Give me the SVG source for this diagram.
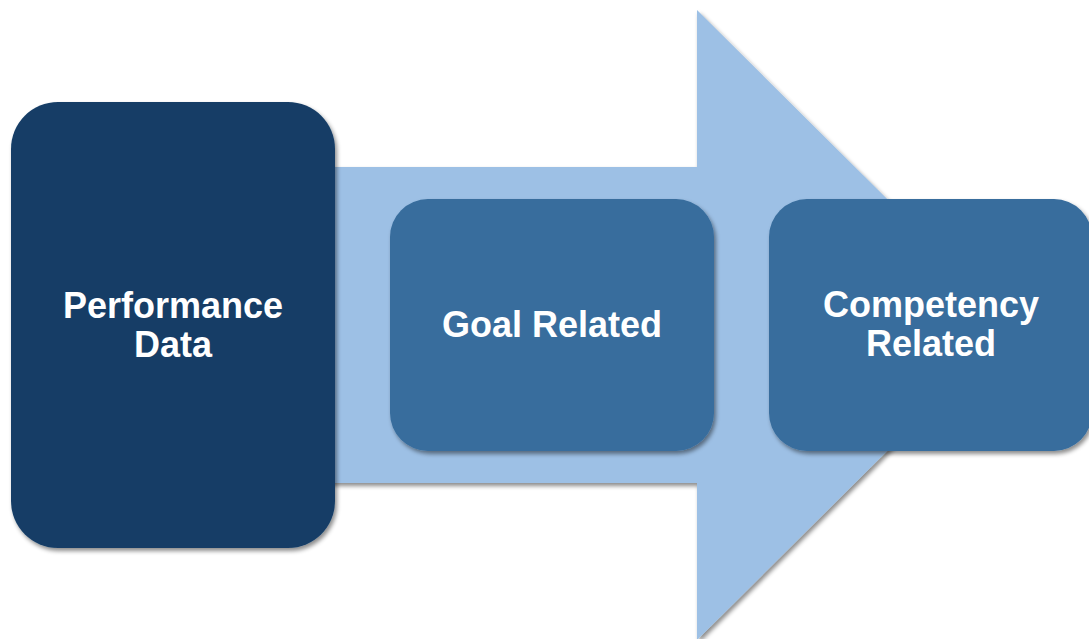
<svg xmlns="http://www.w3.org/2000/svg" width="1089" height="639" viewBox="0 0 1089 639">
  <defs>
    <filter id="sh" x="-10%" y="-10%" width="130%" height="130%">
      <feDropShadow dx="2" dy="3" stdDeviation="2" flood-color="#000" flood-opacity="0.45"/>
    </filter>
    <style>
      .lbl { font-family: "Liberation Sans", Arial, sans-serif; font-weight: bold; font-size: 36px; fill: #ffffff; text-anchor: middle; }
      .arrow { fill: #9DC0E5; }
      .dark { fill: #143D66; }
      .mid { fill: #386D9D; }
    </style>
  </defs>
  <rect width="1089" height="639" fill="#ffffff"/>
  <g id="connectors">
    <polygon class="arrow" filter="url(#sh)" points="300,167 697,167 697,10 1014,325 697,640 697,483 300,483"/>
  </g>
  <g id="node-performance">
    <rect class="dark" filter="url(#sh)" x="11" y="102" width="324" height="446" rx="47" ry="47"/>
    <text class="lbl" x="173" y="318">Performance</text>
    <text class="lbl" x="173" y="357">Data</text>
  </g>
  <g id="node-goal">
    <rect class="mid" filter="url(#sh)" x="390" y="199" width="324" height="252" rx="38" ry="38"/>
    <text class="lbl" x="552" y="337">Goal Related</text>
  </g>
  <g id="node-competency">
    <rect class="mid" filter="url(#sh)" x="769" y="199" width="323" height="252" rx="38" ry="38"/>
    <text class="lbl" x="931" y="317">Competency</text>
    <text class="lbl" x="931" y="356">Related</text>
  </g>
</svg>
